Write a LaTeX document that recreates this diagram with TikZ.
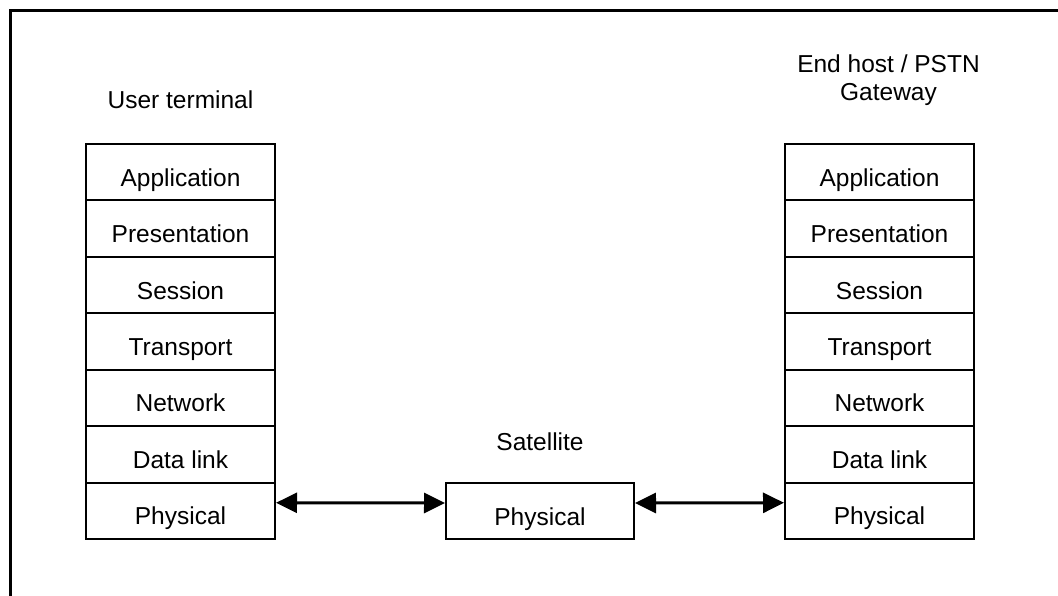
\documentclass[tikz,border=0pt]{standalone}
\usepackage{fontspec}
\setmainfont{Liberation Sans}
\usetikzlibrary{arrows.meta}

\tikzset{
  layer/.style={draw, line width=2pt, rectangle, inner sep=0pt,
    minimum width=189pt, minimum height=56.43pt,
    text height=28pt, text depth=0pt,
    font=\fontsize{24.5}{28}\selectfont},
  lbl/.style={inner sep=0pt, font=\fontsize{24.5}{28}\selectfont},
  link/.style={line width=3pt,
    {Triangle[length=21pt,width=20pt]}-{Triangle[length=21pt,width=20pt]}},
  frame/.style={line width=3pt}
}

\begin{document}
\begin{tikzpicture}[x=1pt,y=-1pt]
  \useasboundingbox (0,0) rectangle (1058,596);

  % outer frame (left and top edges visible)
  \draw[frame] (10.5,596) -- (10.5,10.5) -- (1058,10.5);

  % protocol stacks
  \foreach \name [count=\i from 0] in {Application,Presentation,Session,Transport,Network,Data link,Physical} {
    \node[layer] (l\i) at (180.5, 144+56.43*\i+28.215) {\name};
    \node[layer] (r\i) at (879.5, 144+56.43*\i+28.215) {\name};
  }

  % satellite
  \node[layer, minimum width=188pt, minimum height=56pt] (sat) at (540,511) {Physical};

  % titles
  \node[lbl, anchor=base] (ut) at (180.5,108.3) {User terminal};
  \node[lbl, anchor=north, align=center] (eh) at (888.5,54.5) {End host / PSTN\\Gateway};
  \node[lbl, anchor=base] (st) at (540,450) {Satellite};

  % physical links
  \draw[link] ([yshift=8pt]l6.east) -- ([yshift=8pt]sat.west);
  \draw[link] ([yshift=8pt]sat.east) -- ([yshift=8pt]r6.west);
\end{tikzpicture}
\end{document}
